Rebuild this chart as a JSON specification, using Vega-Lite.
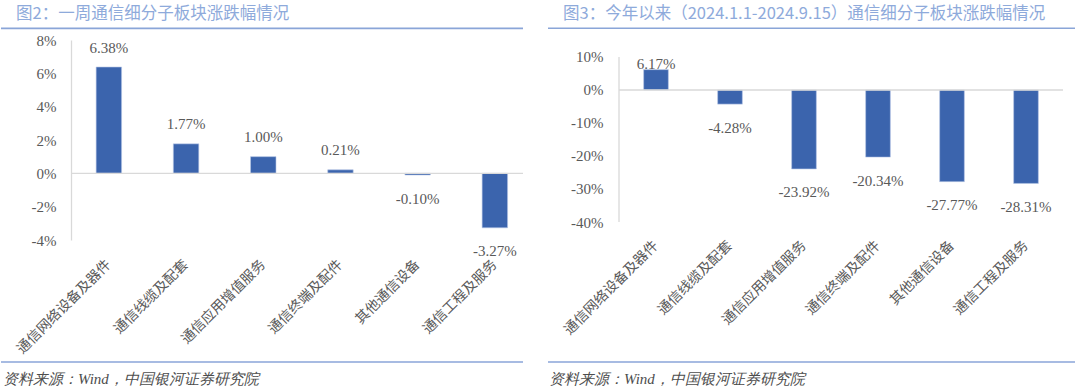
{
  "$schema": "https://vega.github.io/schema/vega-lite/v6.json",
  "background": "white",
  "padding": {"left": 0, "top": 5, "right": 0, "bottom": 0},
  "spacing": 23,
  "config": {
    "view": {"stroke": null},
    "axis": {"labelOverlap": false},
    "axisY": {"labelOverlap": false},
    "locale": {"number": {"decimal": ".", "thousands": ",", "grouping": [3], "currency": ["", ""], "minus": "-", "percent": "%"}}
  },
  "hconcat": [
    {
      "width": 452,
      "height": 200,
      "resolve": {"scale": {"x": "independent"}},
      "layer": [
        {
          "data": {"values": [
            {"sector": "通信网络设备及器件", "chg": 0.0638},
            {"sector": "通信线缆及配套", "chg": 0.0177},
            {"sector": "通信应用增值服务", "chg": 0.0100},
            {"sector": "通信终端及配件", "chg": 0.0021},
            {"sector": "其他通信设备", "chg": -0.0010},
            {"sector": "通信工程及服务", "chg": -0.0327}
          ]},
          "layer": [
            {
              "mark": {"type": "bar", "color": "#3b64ad", "stroke": "#b9c8e6", "strokeWidth": 0.6},
              "encoding": {
                "x": {"field": "sector", "type": "nominal", "sort": null,
                  "scale": {"paddingInner": 0.67, "paddingOuter": 0.2625, "align": 0.62},
                  "axis": {"title": null, "domain": false, "ticks": false, "labelAngle": -45, "labelAlign": "right", "labelBaseline": "middle",
                    "labelFont": "Noto Sans CJK SC", "labelFontSize": 14, "labelColor": "#595959", "labelPadding": 22, "labelLimit": 300}},
                "y": {"field": "chg", "type": "quantitative",
                  "scale": {"domain": [-0.04, 0.08], "nice": false},
                  "axis": {"title": null, "format": ".0%", "values": [-0.04, -0.02, 0, 0.02, 0.04, 0.06, 0.08], "labelOverlap": false, "tickCount": 7,
                    "domainColor": "#d9d9d9", "domainWidth": 1.3, "ticks": false, "grid": false,
                    "labelFont": "Liberation Serif", "labelFontSize": 15, "labelColor": "#595959", "labelPadding": 15}}
              }
            },
            {
              "data": {"values": [{}]},
              "mark": {"type": "rule", "color": "#d9d9d9", "strokeWidth": 1.3},
              "encoding": {"y": {"datum": 0}}
            },
            {
              "transform": [{"filter": "datum.chg >= 0"}],
              "mark": {"type": "text", "dy": -19.5, "font": "Liberation Serif", "fontSize": 15, "color": "#595959", "baseline": "middle"},
              "encoding": {
                "x": {"field": "sector", "type": "nominal", "sort": null},
                "y": {"field": "chg", "type": "quantitative"},
                "text": {"field": "chg", "type": "quantitative", "format": ".2%"}
              }
            },
            {
              "transform": [{"filter": "datum.chg < 0"}],
              "mark": {"type": "text", "dy": 23.5, "font": "Liberation Serif", "fontSize": 15, "color": "#595959", "baseline": "middle"},
              "encoding": {
                "x": {"field": "sector", "type": "nominal", "sort": null},
                "y": {"field": "chg", "type": "quantitative"},
                "text": {"field": "chg", "type": "quantitative", "format": ".2%"}
              }
            }
          ]
        },
        {
          "data": {"values": [{}]},
          "mark": {"type": "text", "font": "Noto Sans CJK SC", "fontSize": 16.5, "color": "#8eaadb", "align": "left", "baseline": "middle"},
          "encoding": {
            "x": {"datum": -0.1217, "type": "quantitative", "scale": {"domain": [0, 1], "nice": false, "zero": false}, "axis": null},
            "y": {"datum": 0.0959},
            "text": {"value": "图2：一周通信细分子板块涨跌幅情况"}
          }
        },
        {
          "data": {"values": [{}]},
          "mark": {"type": "rule", "color": "#8aa5d8", "strokeWidth": 1.6},
          "encoding": {
            "x": {"datum": -0.1549, "type": "quantitative", "scale": {"domain": [0, 1], "nice": false, "zero": false}, "axis": null},
            "x2": {"datum": 1.0},
            "y": {"datum": 0.0870}
          }
        },
        {
          "data": {"values": [{}]},
          "mark": {"type": "rule", "color": "#8aa5d8", "strokeWidth": 1.6},
          "encoding": {
            "x": {"datum": -0.1549, "type": "quantitative", "scale": {"domain": [0, 1], "nice": false, "zero": false}, "axis": null},
            "x2": {"datum": 1.0},
            "y": {"datum": -0.1132}
          }
        },
        {
          "data": {"values": [{}]},
          "mark": {"type": "text", "font": "Liberation Serif", "fontStyle": "italic", "fontSize": 15, "color": "#4d4d4d", "align": "left", "baseline": "middle"},
          "encoding": {
            "x": {"datum": -0.1504, "type": "quantitative", "scale": {"domain": [0, 1], "nice": false, "zero": false}, "axis": null},
            "y": {"datum": -0.1234},
            "text": {"value": "资料来源：Wind，中国银河证券研究院"}
          }
        }
      ]
    },
    {
      "width": 444,
      "height": 182,
      "resolve": {"scale": {"x": "independent"}},
      "layer": [
        {
          "data": {"values": [
            {"sector": "通信网络设备及器件", "chg": 0.0617},
            {"sector": "通信线缆及配套", "chg": -0.0428},
            {"sector": "通信应用增值服务", "chg": -0.2392},
            {"sector": "通信终端及配件", "chg": -0.2034},
            {"sector": "其他通信设备", "chg": -0.2777},
            {"sector": "通信工程及服务", "chg": -0.2831}
          ]},
          "layer": [
            {
              "mark": {"type": "bar", "color": "#3b64ad", "stroke": "#b9c8e6", "strokeWidth": 0.6},
              "encoding": {
                "x": {"field": "sector", "type": "nominal", "sort": null,
                  "scale": {"paddingInner": 0.666, "paddingOuter": 0.333, "align": 0.5},
                  "axis": {"title": null, "domain": false, "ticks": false, "labelAngle": -45, "labelAlign": "right", "labelBaseline": "middle",
                    "labelFont": "Noto Sans CJK SC", "labelFontSize": 14, "labelColor": "#595959", "labelPadding": 21, "labelLimit": 300}},
                "y": {"field": "chg", "type": "quantitative",
                  "scale": {"domain": [-0.4, 0.1515], "nice": false},
                  "axis": {"title": null, "format": ".0%", "values": [-0.4, -0.3, -0.2, -0.1, 0, 0.1], "labelOverlap": false, "tickCount": 6,
                    "domain": false, "ticks": false, "grid": false,
                    "labelFont": "Liberation Serif", "labelFontSize": 15, "labelColor": "#595959", "labelPadding": 16}}
              }
            },
            {
              "data": {"values": [{}]},
              "mark": {"type": "rule", "color": "#d9d9d9", "strokeWidth": 1.3},
              "encoding": {"y": {"datum": 0}}
            },
            {
              "transform": [{"filter": "datum.chg >= 0"}],
              "mark": {"type": "text", "dy": -5.6, "font": "Liberation Serif", "fontSize": 15, "color": "#595959", "baseline": "middle"},
              "encoding": {
                "x": {"field": "sector", "type": "nominal", "sort": null},
                "y": {"field": "chg", "type": "quantitative"},
                "text": {"field": "chg", "type": "quantitative", "format": ".2%"}
              }
            },
            {
              "transform": [{"filter": "datum.chg < 0"}],
              "mark": {"type": "text", "dy": 23.5, "font": "Liberation Serif", "fontSize": 15, "color": "#595959", "baseline": "middle"},
              "encoding": {
                "x": {"field": "sector", "type": "nominal", "sort": null},
                "y": {"field": "chg", "type": "quantitative"},
                "text": {"field": "chg", "type": "quantitative", "format": ".2%"}
              }
            }
          ]
        },
        {
          "data": {"values": [{}]},
          "mark": {"type": "rule", "color": "#d9d9d9", "strokeWidth": 1.3},
          "encoding": {
            "x": {"datum": 0, "type": "quantitative", "scale": {"domain": [0, 1], "nice": false, "zero": false}, "axis": null},
            "y": {"datum": -0.4},
            "y2": {"datum": 0.1}
          }
        },
        {
          "data": {"values": [{}]},
          "mark": {"type": "text", "font": "Noto Sans CJK SC", "fontSize": 16.5, "color": "#8eaadb", "align": "left", "baseline": "middle"},
          "encoding": {
            "x": {"datum": -0.1261, "type": "quantitative", "scale": {"domain": [0, 1], "nice": false, "zero": false}, "axis": null},
            "y": {"datum": 0.2318},
            "text": {"value": "图3：今年以来（2024.1.1-2024.9.15）通信细分子板块涨跌幅情况"}
          }
        },
        {
          "data": {"values": [{}]},
          "mark": {"type": "rule", "color": "#8aa5d8", "strokeWidth": 1.6},
          "encoding": {
            "x": {"datum": -0.1599, "type": "quantitative", "scale": {"domain": [0, 1], "nice": false, "zero": false}, "axis": null},
            "x2": {"datum": 1.027},
            "y": {"datum": 0.1870}
          }
        },
        {
          "data": {"values": [{}]},
          "mark": {"type": "rule", "color": "#8aa5d8", "strokeWidth": 1.6},
          "encoding": {
            "x": {"datum": -0.1599, "type": "quantitative", "scale": {"domain": [0, 1], "nice": false, "zero": false}, "axis": null},
            "x2": {"datum": 1.027},
            "y": {"datum": -0.8242}
          }
        },
        {
          "data": {"values": [{}]},
          "mark": {"type": "text", "font": "Liberation Serif", "fontStyle": "italic", "fontSize": 15, "color": "#4d4d4d", "align": "left", "baseline": "middle"},
          "encoding": {
            "x": {"datum": -0.1577, "type": "quantitative", "scale": {"domain": [0, 1], "nice": false, "zero": false}, "axis": null},
            "y": {"datum": -0.8758},
            "text": {"value": "资料来源：Wind，中国银河证券研究院"}
          }
        }
      ]
    }
  ]
}
